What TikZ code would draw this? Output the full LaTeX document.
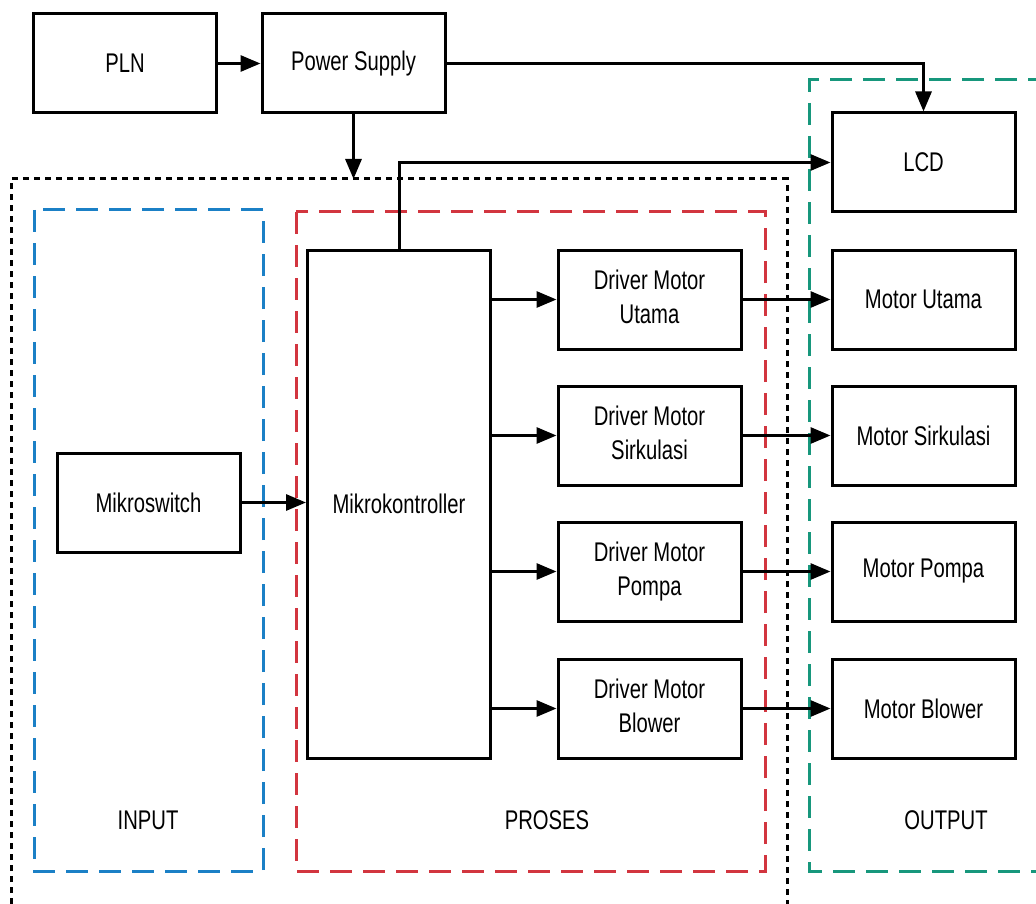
\documentclass[tikz,border=0pt]{standalone}
\usepackage{fontspec}
\setmainfont{Liberation Sans}[FakeStretch=0.75]
\usetikzlibrary{arrows.meta}
\definecolor{inblue}{HTML}{1B80C6}
\definecolor{prored}{HTML}{D2353F}
\definecolor{outgreen}{HTML}{17977C}
\newcommand{\twoline}[2]{\raisebox{4pt}{\begin{tabular}{@{}c@{}}#1\\#2\end{tabular}}}
\tikzset{
  blk/.style={draw=black, line width=3pt, minimum width=183pt, minimum height=99pt, inner sep=2pt, align=center, font=\fontsize{27}{34}\selectfont},
  conn/.style={line width=3pt, -{Triangle[length=20pt,width=16pt]}},
  grp/.style={line width=3pt, dash pattern=on 22pt off 11pt},
  dots/.style={line width=3pt, dash pattern=on 6pt off 5pt},
  lbl/.style={font=\fontsize{27}{34}\selectfont}
}
\begin{document}
\begin{tikzpicture}[x=1pt,y=-1pt]
\useasboundingbox (0,0) rectangle (1036,904);
\clip (0,0) rectangle (1036,904);
% group frames
\draw[dots] (11,915) -- (11,179) -- (787,179) -- (787,915);
\draw[grp, inblue] (34,210) rectangle (263,871);
\draw[grp, prored] (296,212) rectangle (765,871);
\draw[grp, outgreen] (1050,80) -- (809,80) -- (809,871) -- (1050,871);
% nodes
\node[blk] (pln) at (125,63.5) {PLN};
\node[blk] (ps) at (353.5,63.5) {Power Supply};
\node[blk] (lcd) at (923.5,162.5) {LCD};
\node[blk] (m1) at (923.5,299.5) {Motor Utama};
\node[blk] (m2) at (923.5,435.5) {Motor Sirkulasi};
\node[blk] (m3) at (923.5,571.5) {Motor Pompa};
\node[blk] (m4) at (923.5,708.5) {Motor Blower};
\node[blk] (d1) at (649.5,299.5) {\twoline{Driver Motor}{Utama}};
\node[blk] (d2) at (649.5,435.5) {\twoline{Driver Motor}{Sirkulasi}};
\node[blk] (d3) at (649.5,571.5) {\twoline{Driver Motor}{Pompa}};
\node[blk] (d4) at (649.5,708.5) {\twoline{Driver Motor}{Blower}};
\node[blk, minimum height=508pt] (mk) at (399,504) {Mikrokontroller};
\node[blk] (sw) at (148.5,502.5) {Mikroswitch};
\coordinate (proc) at (353.5,179);
% labels
\node[lbl] (lin) at (148,820) {INPUT};
\node[lbl] (lpr) at (547,820) {PROSES};
\node[lbl] (lout) at (946,820) {OUTPUT};
% connectors
\draw[conn] (pln) -- (ps);
\draw[conn] (ps.south) -- (proc);
\draw[conn] (ps.east) -| (lcd.north);
\draw[conn] (mk.north) |- (lcd.west);
\draw[conn] (sw) -- (sw -| mk.west);
\foreach \d/\m in {d1/m1,d2/m2,d3/m3,d4/m4}{
  \draw[conn] (\d.west -| mk.east) -- (\d.west);
  \draw[conn] (\d) -- (\m);
}
\end{tikzpicture}
\end{document}
